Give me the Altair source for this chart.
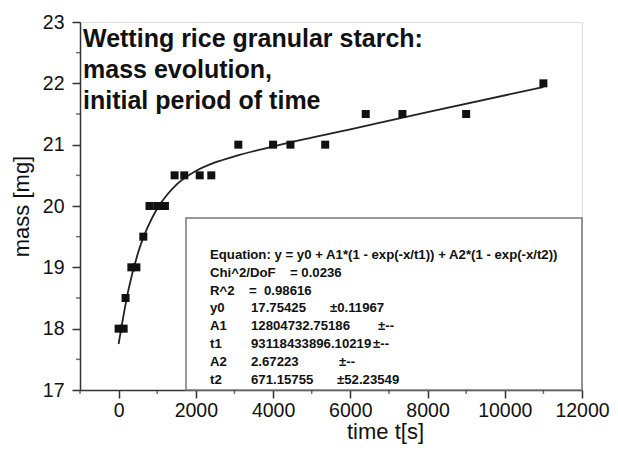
import altair as alt
import pandas as pd

# ---- data ----
time_s = [0, 130, 180, 330, 460, 640, 800, 1000, 1200, 1450, 1700, 2100, 2400,
          3100, 4000, 4450, 5350, 6400, 7350, 9000, 11000]
mass_mg = [18, 18, 18.5, 19, 19, 19.5, 20, 20, 20, 20.5, 20.5, 20.5, 20.5,
           21, 21, 21, 21, 21.5, 21.5, 21.5, 22]

fit_time_s = [0, 250, 500, 750, 1000, 1250, 1500, 2000, 2500, 3000, 4000, 6000, 8000, 11000]
fit_mass_mg = [17.75, 18.62, 19.23, 19.65, 19.96, 20.18, 20.35, 20.57, 20.71, 20.81,
               20.97, 21.25, 21.53, 21.94]

x_major = [0, 2000, 4000, 6000, 8000, 10000, 12000]
x_minor = [-1000, 1000, 3000, 5000, 7000, 9000, 11000]
y_major = [17, 18, 19, 20, 21, 22, 23]
y_minor = [17.5, 18.5, 19.5, 20.5, 21.5, 22.5]

title_lines = ["Wetting rice granular starch:", "mass evolution,", "initial period of time"]
eq_lines = ["Equation: y = y0 + A1*(1 - exp(-x/t1)) + A2*(1 - exp(-x/t2))",
            "Chi^2/DoF", "R^2", "y0", "A1", "t1", "A2", "t2"]
chi2_text = "= 0.0236"
r2_text = "=\u00a0\u00a00.98616"
param_values = ["17.75425", "12804732.75186", "93118433896.10219", "2.67223", "671.15755"]
param_errors = ["\u00b10.11967", "\u00b1--", "\u00b1--", "\u00b1--", "\u00b152.23549"]

FONT = "Liberation Sans, Arial, Helvetica, sans-serif"
INK = "#111111"
AX = "#333333"

W = 502
H = 368

pts = pd.DataFrame({"t": time_s, "m": mass_mg})
fit = pd.DataFrame({"t": fit_time_s, "m": fit_mass_mg})
one = pd.DataFrame({"k": [0]})

common_axis = dict(
    labelFont=FONT, labelFontSize=19.5, labelColor=INK, tickSize=8, tickColor=AX,
    tickWidth=1.5, domainColor=AX, domainWidth=1.5, grid=False, titleFont=FONT,
    titleFontSize=22, titleFontWeight="normal", titleColor=INK, labelFlush=False,
    labelOverlap=False, titleAlign="center", titleBaseline="alphabetic",
)


def xenc():
    return alt.X("t:Q", scale=alt.Scale(domain=[-1000, 12000], nice=False, zero=False),
                 axis=alt.Axis(values=x_major, format="d", title="time t[s]",
                               labelPadding=3, titleX=305, titleY=48, **common_axis))


def yenc():
    return alt.Y("m:Q", scale=alt.Scale(domain=[17, 23], nice=False, zero=False),
                 axis=alt.Axis(values=y_major, format="d", title="mass [mg]",
                               labelPadding=8, titleX=-52, titleY=H / 2, titleAngle=270,
                               **common_axis))


box = alt.Chart(one).mark_rect(fill="white", stroke="#777777", strokeWidth=1.5).encode(
    x=alt.value(106), x2=alt.value(W), y=alt.value(196), y2=alt.value(H))

line = alt.Chart(fit).mark_line(color="#222222", strokeWidth=1.8, interpolate="monotone").encode(
    x=xenc(), y=yenc())

points = alt.Chart(pts).mark_square(size=64, color=INK, opacity=1, filled=True).encode(
    x=xenc(), y=yenc())

xminor = alt.Chart(pd.DataFrame({"t": x_minor})).mark_tick(
    orient="vertical", size=4, thickness=1.5, color=AX).encode(x=xenc(), y=alt.value(H + 2))
yminor = alt.Chart(pd.DataFrame({"m": y_minor})).mark_tick(
    orient="horizontal", size=4, thickness=1.5, color=AX).encode(y=yenc(), x=alt.value(-2))

title_txt = alt.Chart(one).mark_text(
    align="left", baseline="alphabetic", font=FONT, fontSize=25, fontWeight="bold",
    lineHeight=31, color=INK, text=title_lines).encode(x=alt.value(3), y=alt.value(25))

eq_style = dict(align="left", baseline="alphabetic", font=FONT, fontSize=13.2,
                fontWeight="bold", color=INK)
ROW0 = 237
ROWH = 17.8

eq_txt = alt.Chart(one).mark_text(lineHeight=ROWH, text=eq_lines, **eq_style).encode(
    x=alt.value(130), y=alt.value(ROW0))
chi_txt = alt.Chart(one).mark_text(text=chi2_text, **eq_style).encode(
    x=alt.value(210), y=alt.value(ROW0 + ROWH))
r2_txt = alt.Chart(one).mark_text(text=r2_text, **eq_style).encode(
    x=alt.value(169), y=alt.value(ROW0 + 2 * ROWH))
val_txt = alt.Chart(one).mark_text(lineHeight=ROWH, text=param_values, **eq_style).encode(
    x=alt.value(171), y=alt.value(ROW0 + 3 * ROWH))

err_x = [250, 298, 293, 259, 257]
err_layers = [
    alt.Chart(one).mark_text(text=e, **eq_style).encode(
        x=alt.value(ex), y=alt.value(ROW0 + (3 + i) * ROWH))
    for i, (e, ex) in enumerate(zip(param_errors, err_x))
]

chart = alt.layer(
    box, line, points, xminor, yminor, title_txt, eq_txt, chi_txt, r2_txt, val_txt,
    *err_layers
).properties(
    width=W, height=H,
    autosize=alt.AutoSizeParams(type="none"),
    padding={"left": 72, "top": 14, "right": 602 - 72 - W, "bottom": 437 - 14 - H},
).configure_view(stroke="#888888", strokeWidth=1.3).configure(background="white")

chart.save("out.html", embed_options={"renderer": "svg", "actions": False})
